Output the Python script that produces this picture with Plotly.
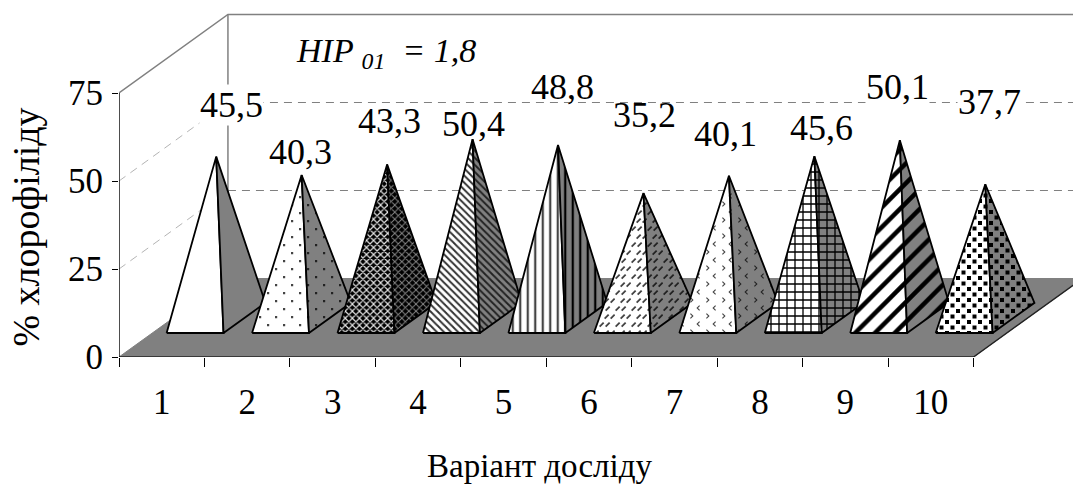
import plotly.graph_objects as go

variants = ["1", "2", "3", "4", "5", "6", "7", "8", "9", "10"]
chlorophyll = [45.5, 40.3, 43.3, 50.4, 48.8, 35.2, 40.1, 45.6, 50.1, 37.7]
value_ticks = [0, 25, 50, 75]
value_labels = ["0", "25", "50", "75"]
decimal_labels = ["45,5", "40,3", "43,3", "50,4", "48,8", "35,2", "40,1", "45,6", "50,1", "37,7"]

# Oblique projection of the chart box, in axis units
DEPTH_X = 109 / 85.5
DEPTH_Y = 78.5 / 3.52
HALF_W = 0.333
NEAR, FAR = 0.306, 0.69
VALUE_SCALE = 1.006
TOP = 75
X_MAX = (1073 - 118.5) / 85.5
Y_MAX = 357 / 3.52

FONT = "Liberation Serif"
GRAY = "#808080"


def proj(x, d, h=0.0):
    return x + d * DEPTH_X, h + d * DEPTH_Y


def squares(points, s):
    return "".join(f"M{x} {y}h{s}v{s}h{-s}Z" for x, y in points)


def slants(points):
    return "".join(f"M{x} {y}l4 -4l1.3 1.3l-4 4Z" for x, y in points)


CHEVRONS = "M5 2l-2 2l2 2l-0.8 0.8l-2.8 -2.8l2.8 -2.8Z" "M11 10l2 2l-2 2l0.8 0.8l2.8 -2.8l-2.8 -2.8Z"
DOTS = squares([(4, 4), (12, 12)], 2.2)
BIG_DOTS = squares([(1, 1), (6.5, 6.5)], 4)
DASHES = slants([(0, 6), (6, 6), (11, 14), (5, 14)])


def pat(fg, **kw):
    return dict(fgcolor=fg, fgopacity=1, **kw)


# (front pattern, side pattern)
STYLES = [
    (None, None),
    (pat("#444444", path=DOTS, size=16), pat("#222222", path=DOTS, size=16)),
    (dict(shape="x", size=5, solidity=0.42, fgcolor="#ffffff", fgopacity=0.9, bgcolor="#000000"),
     dict(shape="x", size=5, solidity=0.35, fgcolor="#a0a0a0", fgopacity=0.85, bgcolor="#000000")),
    (pat("#333333", shape="\\", size=5, solidity=0.4), pat("#222222", shape="\\", size=5, solidity=0.4)),
    (pat("#444444", shape="|", size=7.5, solidity=0.3), pat("#000000", shape="|", size=7.5, solidity=0.3)),
    (pat("#444444", path=DASHES, size=16), pat("#222222", path=DASHES, size=16)),
    (pat("#444444", path=CHEVRONS, size=16), pat("#222222", path=CHEVRONS, size=16)),
    (pat("#000000", shape="+", size=8, solidity=0.3), pat("#000000", shape="+", size=8, solidity=0.3)),
    (pat("#000000", shape="/", size=14, solidity=0.32), pat("#000000", shape="/", size=14, solidity=0.32)),
    (pat("#000000", path=BIG_DOTS, size=11), pat("#000000", path=BIG_DOTS, size=11)),
]

LABEL_DX = [15, -1, 2.5, 1, 4, 1.5, -3, 7, -2, 4]
LABEL_DY = [52, 23, 43.5, 15.5, 58, 78.5, 42, 28.5, 53, 82.5]
LABEL_BG = [True, False, False, False, False, False, False, False, True, True]

fig = go.Figure()


def line(xs, ys, color, width=1.0, dash=None):
    fig.add_trace(go.Scatter(x=xs, y=ys, mode="lines", hoverinfo="skip", showlegend=False,
                             line=dict(color=color, width=width, dash=dash)))


n = len(variants)
# Walls
for level in value_ticks[1:3]:
    a = proj(0, 0, level)
    b = proj(0, 1, level)
    c = proj(n, 1, level)
    line([a[0], b[0]], [a[1], b[1]], "#b4b4b4", 1, "8px,6px")
    line([b[0], c[0]], [b[1], c[1]], GRAY, 1, "8px,6px")
a = proj(0, 0, TOP)
b = proj(0, 1, TOP)
c = proj(n, 1, TOP)
f = proj(0, 1, 0)
line([a[0], b[0], c[0]], [a[1], b[1], c[1]], GRAY, 1.5)
line([b[0], f[0]], [b[1], f[1]], GRAY, 1.5)

# Floor
corners = [proj(0, 0), proj(n, 0), proj(n, 1), proj(0, 1), proj(0, 0)]
fig.add_trace(go.Scatter(x=[p[0] for p in corners], y=[p[1] for p in corners], mode="lines",
                         fill="toself", fillcolor=GRAY, line=dict(color=GRAY, width=1),
                         hoverinfo="skip", showlegend=False))
r = [proj(0, 0), proj(n, 0), proj(n, 1)]
line([p[0] for p in r], [p[1] for p in r], "#222222", 1.4)
line([0, 0], [0, TOP], "#000000", 1.4)

# Pyramids
for i, v in enumerate(chlorophyll):
    cx = i + 0.5
    fl = proj(cx - HALF_W, NEAR)
    fr = proj(cx + HALF_W, NEAR)
    br = proj(cx + HALF_W, FAR)
    apex = proj(cx, 0.5, v * VALUE_SCALE)
    faces = [([fl, fr, apex, fl], "#ffffff", STYLES[i][0]),
             ([fr, br, apex, fr], GRAY, STYLES[i][1])]
    for pts, bg, p in faces:
        kw = {}
        if p:
            p = dict(p)
            p.setdefault("bgcolor", bg)
            kw["fillpattern"] = p
        fig.add_trace(go.Scatter(x=[q[0] for q in pts], y=[q[1] for q in pts], mode="lines",
                                 fill="toself", fillcolor=bg, line=dict(color="#000000", width=1.8),
                                 hoverinfo="skip", showlegend=False, **kw))
    fig.add_annotation(x=apex[0], y=apex[1], text=decimal_labels[i], showarrow=False,
                       xshift=LABEL_DX[i], yshift=LABEL_DY[i], xref="x", yref="y",
                       font=dict(family=FONT, size=36, color="#000000"),
                       bgcolor="#ffffff" if LABEL_BG[i] else None, borderpad=0)

fig.add_annotation(xref="paper", yref="paper", x=(294 - 118.5) / (1073 - 118.5), y=1 - 53 / 357,
                   xanchor="left", yanchor="middle", showarrow=False,
                   text="<i>HIP <sub>01</sub>  = 1,8</i>",
                   font=dict(family=FONT, size=34, color="#000000"))
fig.add_annotation(xref="paper", yref="paper", x=(539 - 118.5) / (1073 - 118.5), y=-(466 - 357) / 357,
                   xanchor="center", yanchor="middle", showarrow=False, text="Варіант досліду",
                   font=dict(family=FONT, size=33, color="#000000"))
fig.add_annotation(xref="paper", yref="paper", x=(25 - 118.5) / (1073 - 118.5), y=1 - 227 / 357,
                   xanchor="center", yanchor="middle", showarrow=False, text="% хлорофіліду",
                   textangle=-90, font=dict(family=FONT, size=38, color="#000000"))

fig.update_layout(
    width=1073, height=484, autosize=False, showlegend=False,
    paper_bgcolor="#ffffff", plot_bgcolor="#ffffff",
    margin=dict(l=118.5, r=0, t=0, b=127, pad=0),
    xaxis=dict(range=[0, X_MAX], showgrid=False, zeroline=False, showline=False,
               tickmode="array", tickvals=[i + 0.5 for i in range(n)], ticktext=variants,
               ticks="", tickfont=dict(family=FONT, size=35, color="#000000"), ticklabelstandoff=21,
               minor=dict(tickmode="array", tickvals=list(range(n + 1)), ticks="outside",
                          ticklen=9, tickwidth=1, tickcolor="#000000")),
    yaxis=dict(range=[0, Y_MAX], showgrid=False, zeroline=False, showline=False,
               tickmode="array", tickvals=value_ticks, ticktext=value_labels,
               ticks="outside", ticklen=6, tickwidth=1, tickcolor="#000000",
               tickfont=dict(family=FONT, size=35, color="#000000"), ticklabelstandoff=2),
)

fig.write_html("out.html", config={"displayModeBar": False},
               post_script="document.body.style.margin='0';")
